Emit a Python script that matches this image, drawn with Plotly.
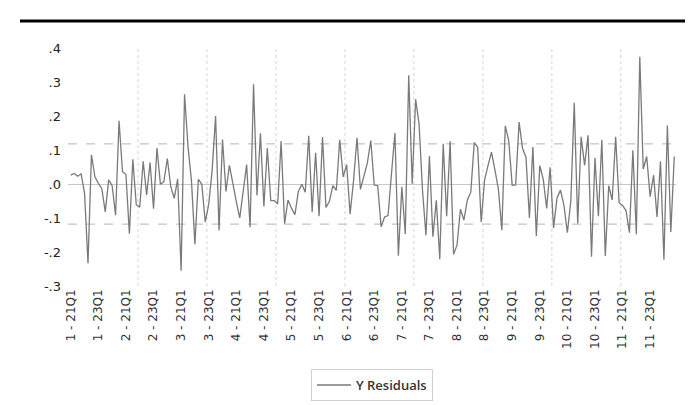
import plotly.graph_objects as go

# ---- data -------------------------------------------------------------
cross_sections = list(range(1, 12))
quarters = [f"{y}Q{q}" for y in (21, 22, 23, 24) for q in (1, 2, 3, 4)]

residuals = [
    0.026, 0.031, 0.023, 0.030, -0.027, -0.233, 0.086, 0.021, 0.002, -0.013,
    -0.082, 0.012, -0.005, -0.092, 0.186, 0.036, 0.028, -0.146, 0.073, -0.061,
    -0.068, 0.067, -0.032, 0.063, -0.073, 0.106, -0.001, 0.007, 0.075, -0.008,
    -0.042, 0.015, -0.255, 0.264, 0.110, 0.010, -0.177, 0.014, -0.001, -0.112,
    -0.060, 0.040, 0.200, -0.137, 0.131, -0.022, 0.055, 0.007, -0.051, -0.100,
    -0.013, 0.057, -0.127, 0.293, -0.034, 0.149, -0.066, 0.106, -0.049, -0.049,
    -0.059, 0.126, -0.117, -0.047, -0.071, -0.090, -0.022, -0.001, -0.024, 0.142,
    -0.082, 0.092, -0.095, 0.138, -0.069, -0.051, -0.005, -0.019, 0.130, 0.021,
    0.057, -0.088, 0.010, 0.136, -0.016, 0.026, 0.062, 0.128, -0.003, -0.005,
    -0.126, -0.097, -0.093, 0.030, 0.150, -0.211, -0.008, -0.147, 0.320, 0.001,
    0.249, 0.176, -0.020, -0.151, 0.082, -0.155, -0.048, -0.221, 0.118, -0.095,
    0.126, -0.207, -0.180, -0.074, -0.106, -0.047, -0.024, 0.122, 0.108, -0.112,
    0.012, 0.055, 0.094, 0.041, -0.015, -0.136, 0.171, 0.127, -0.004, -0.003,
    0.182, 0.105, 0.079, -0.100, 0.109, -0.153, 0.054, 0.014, -0.072, 0.049,
    -0.129, -0.041, -0.018, -0.062, -0.143, -0.050, 0.239, -0.116, 0.139, 0.055,
    0.143, -0.214, 0.077, -0.095, 0.130, -0.212, -0.005, -0.047, 0.139, -0.055,
    -0.063, -0.078, -0.143, 0.099, -0.148, 0.374, 0.044, 0.081, -0.037, 0.026,
    -0.097, 0.067, -0.223, 0.172, -0.141, 0.081,
]

se_band = 0.118                      # +/- 1 S.E. reference lines
y_tick_vals = [-0.3, -0.2, -0.1, 0.0, 0.1, 0.2, 0.3, 0.4]
y_tick_text = ["-.3", "-.2", "-.1", ".0", ".1", ".2", ".3", ".4"]
label_every = 8                      # one x label every 8 observations
grid_obs = [19.5, 39.5, 59.5, 79.5, 99.5, 119.5, 139.5, 159.5]

# ---- build ------------------------------------------------------------
obs_labels = [f"{c} - {q}" for c in cross_sections for q in quarters]
x = list(range(len(residuals)))
tick_vals = x[::label_every]
tick_text = [obs_labels[i] for i in tick_vals]

fig = go.Figure()
fig.add_trace(go.Scatter(
    x=x, y=residuals, mode="lines", name="Y Residuals",
    line=dict(color="#7a7a7a", width=1.3),
))

shapes = []
for g in grid_obs:
    shapes.append(dict(type="line", xref="x", yref="y", x0=g, x1=g,
                       y0=-0.3, y1=0.4, layer="below",
                       line=dict(color="#d4d4d4", width=1, dash="dot")))
for s in (se_band, -se_band):
    shapes.append(dict(type="line", xref="paper", yref="y", x0=0, x1=1,
                       y0=s, y1=s, layer="below",
                       line=dict(color="#b4b4b4", width=1, dash="dash")))
# heavy top rule
shapes.append(dict(type="line", xref="paper", yref="paper",
                   x0=-0.079, x1=1.05, y0=1.113, y1=1.113,
                   line=dict(color="black", width=3)))

fig.update_layout(
    width=693, height=405,
    margin=dict(l=60, r=25, t=40, b=124),
    plot_bgcolor="white", paper_bgcolor="white",
    font=dict(family="DejaVu Sans", size=12, color="#333333"),
    shapes=shapes,
    showlegend=True,
    legend=dict(
        x=0.5, xanchor="center", y=-0.349, yanchor="top",
        bordercolor="#d0d0d0", borderwidth=1, itemwidth=34,
        font=dict(family="Open Sans", size=13, color="#333333", weight=600),
    ),
    xaxis=dict(
        range=[-0.8, 175.5], tickvals=tick_vals, ticktext=tick_text,
        tickangle=-90, showgrid=False, zeroline=False, showline=False,
        ticks="", tickfont=dict(size=12, color="#333333"),
    ),
    yaxis=dict(
        range=[-0.3, 0.4], tickvals=y_tick_vals, ticktext=y_tick_text,
        showgrid=False, zeroline=True, zerolinecolor="#c8c8c8",
        zerolinewidth=1, showline=False, ticks="", ticklabelstandoff=6,
        tickfont=dict(size=13, color="#222222"),
    ),
)

fig.write_html("out.html")
